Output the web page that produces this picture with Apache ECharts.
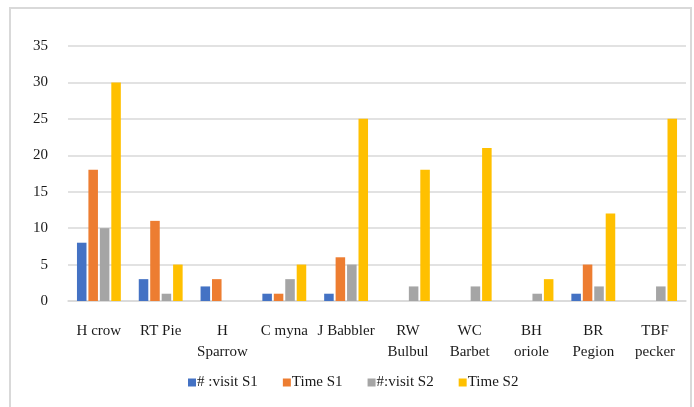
<!DOCTYPE html>
<html>
<head>
<meta charset="utf-8">
<script src="https://cdn.jsdelivr.net/npm/echarts@6/dist/echarts.min.js"></script>
<style>
  html, body { margin: 0; padding: 0; background: #fff; }
  #main { width: 694px; height: 407px; }
</style>
</head>
<body>
<div id="main"></div>
<script>
var categories = ['H crow', 'RT Pie', 'H\nSparrow', 'C myna', 'J Babbler', 'RW\nBulbul', 'WC\nBarbet', 'BH\noriole', 'BR\nPegion', 'TBF\npecker'];
var visitS1 = [8, 3, 2, 1, 1, 0, 0, 0, 1, 0];
var timeS1 = [18, 11, 3, 1, 6, 0, 0, 0, 5, 0];
var visitS2 = [10, 1, 0, 3, 5, 2, 2, 1, 2, 2];
var timeS2 = [30, 5, 0, 5, 25, 18, 21, 3, 12, 25];
var seriesNames = ['# :visit S1', 'Time S1', '#:visit S2', 'Time S2'];
var colors = ['#4472C4', '#ED7D31', '#A5A5A5', '#FFC000'];

var font = 'Liberation Serif, Times New Roman, serif';
var chart = echarts.init(document.getElementById('main'));

function bar(name, data, color) {
    return {
        name: name,
        type: 'bar',
        data: data.map(function (v) { return v === 0 ? '-' : v; }),
        barGap: '20%',
        barCategoryGap: '29%',
        itemStyle: { color: color }
    };
}

chart.setOption({
    backgroundColor: '#fff',
    animation: false,
    color: colors,
    graphic: [{
        type: 'rect',
        shape: { x: 10, y: 8, width: 681, height: 420 },
        style: { fill: 'none', stroke: '#d9d9d9', lineWidth: 2 },
        silent: true
    }],
    grid: { left: 68, right: 8, top: 46, bottom: 106 },
    legend: {
        bottom: 12,
        left: 183,
        itemWidth: 8,
        itemHeight: 8,
        itemGap: 25,
        icon: 'rect',
        textStyle: { fontFamily: font, fontSize: 15, color: '#1a1a1a', padding: [0, 0, 0, -4] },
        data: seriesNames
    },
    xAxis: {
        type: 'category',
        data: categories,
        axisLine: { lineStyle: { color: '#d9d9d9', width: 1.5 } },
        axisTick: { show: false },
        axisLabel: {
            fontFamily: font, fontSize: 15, color: '#1a1a1a',
            margin: 20, lineHeight: 21, interval: 0
        }
    },
    yAxis: {
        type: 'value',
        min: 0,
        max: 35,
        interval: 5,
        axisLine: { show: false },
        axisTick: { show: false },
        splitLine: { lineStyle: { color: '#d9d9d9', width: 1.5 } },
        axisLabel: { fontFamily: font, fontSize: 15, color: '#1a1a1a', margin: 20 }
    },
    series: [
        bar(seriesNames[0], visitS1, colors[0]),
        bar(seriesNames[1], timeS1, colors[1]),
        bar(seriesNames[2], visitS2, colors[2]),
        bar(seriesNames[3], timeS2, colors[3])
    ]
});
</script>
</body>
</html>
